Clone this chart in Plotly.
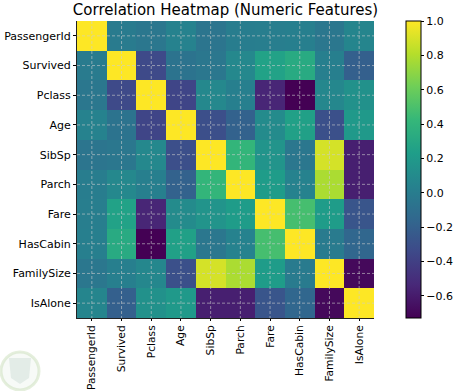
import plotly.graph_objects as go

features = ["PassengerId", "Survived", "Pclass", "Age", "SibSp", "Parch", "Fare", "HasCabin", "FamilySize", "IsAlone"]
corr = [
    [1.00, -0.01, -0.04, 0.04, -0.06, -0.00, 0.01, 0.02, -0.04, 0.06],
    [-0.01, 1.00, -0.34, -0.07, -0.04, 0.08, 0.26, 0.32, 0.02, -0.20],
    [-0.04, -0.34, 1.00, -0.37, 0.08, 0.02, -0.55, -0.73, 0.07, 0.14],
    [0.04, -0.07, -0.37, 1.00, -0.31, -0.19, 0.10, 0.25, -0.30, 0.20],
    [-0.06, -0.04, 0.08, -0.31, 1.00, 0.41, 0.16, -0.04, 0.89, -0.58],
    [-0.00, 0.08, 0.02, -0.19, 0.41, 1.00, 0.22, 0.04, 0.78, -0.58],
    [0.01, 0.26, -0.55, 0.10, 0.16, 0.22, 1.00, 0.48, 0.22, -0.27],
    [0.02, 0.32, -0.73, 0.25, -0.04, 0.04, 0.48, 1.00, -0.01, -0.16],
    [-0.04, 0.02, 0.07, -0.30, 0.89, 0.78, 0.22, -0.01, 1.00, -0.69],
    [0.06, -0.20, 0.14, 0.20, -0.58, -0.58, -0.27, -0.16, -0.69, 1.00],
]
cbar_ticks = [-0.6, -0.4, -0.2, 0.0, 0.2, 0.4, 0.6, 0.8, 1.0]
cbar_labels = ["−0.6", "−0.4", "−0.2", "0.0", "0.2", "0.4", "0.6", "0.8", "1.0"]

W, H = 455, 391
L, R, T, B = 77, 374, 21, 318
font = "DejaVu Sans"
idx = list(range(len(features)))

fig = go.Figure(go.Heatmap(
    z=corr, x=idx, y=idx, colorscale="Viridis", zmin=-0.73, zmax=1.0, xgap=0, ygap=0,
    colorbar=dict(
        thickness=15, thicknessmode="pixels", len=1, lenmode="fraction", y=0.5, yanchor="middle",
        x=(406 - L) / (R - L), xanchor="left", xpad=0, ypad=0,
        outlinewidth=1, outlinecolor="black",
        tickmode="array", tickvals=cbar_ticks, ticktext=cbar_labels,
        ticks="outside", ticklen=3, tickwidth=1, tickcolor="black",
        tickfont=dict(family=font, size=11, color="black"),
    ),
))

shapes = []
for i in idx:
    grid = dict(color="rgba(205,205,205,0.75)", width=0.8, dash="3px,2px")
    shapes.append(dict(type="line", xref="x", yref="y", x0=i, x1=i, y0=-0.5, y1=len(idx) - 0.5, line=grid, layer="above"))
    shapes.append(dict(type="line", xref="x", yref="y", x0=-0.5, x1=len(idx) - 0.5, y0=i, y1=i, line=grid, layer="above"))
# faint watermark emblem
shapes.append(dict(type="circle", xref="paper", yref="paper",
                   x0=(1 - L) / (R - L), x1=(39 - L) / (R - L),
                   y0=(B - 390) / (B - T), y1=(B - 352) / (B - T),
                   line=dict(color="rgba(190,215,170,0.4)", width=3), fillcolor="rgba(240,245,240,0.5)", layer="below"))
shapes.append(dict(type="path", xref="paper", yref="paper",
                   path=" ".join([
                       f"M {(9 - L) / (R - L)} {(B - 358) / (B - T)}",
                       f"L {(31 - L) / (R - L)} {(B - 358) / (B - T)}",
                       f"L {(29 - L) / (R - L)} {(B - 378) / (B - T)}",
                       f"L {(20 - L) / (R - L)} {(B - 384) / (B - T)}",
                       f"L {(11 - L) / (R - L)} {(B - 378) / (B - T)}", "Z"]),
                   line=dict(width=0), fillcolor="rgba(190,210,200,0.35)", layer="below"))

fig.update_layout(
    width=W, height=H,
    margin=dict(l=L, r=W - R, t=T, b=H - B, autoexpand=False),
    paper_bgcolor="white", plot_bgcolor="white",
    font=dict(family=font, size=11, color="black"),
    title=dict(text="Correlation Heatmap (Numeric Features)", x=(L + R) / 2 / W, xanchor="center",
               y=1 - 10 / H, yanchor="middle", font=dict(family=font, size=15, color="black")),
    xaxis=dict(tickmode="array", tickvals=idx, ticktext=features, tickangle=-90, ticks="outside",
               ticklen=2, tickwidth=1, tickcolor="black", showgrid=False, zeroline=False,
               tickfont=dict(family=font, size=10.7, color="black"),
               showline=True, linecolor="#222", linewidth=1, mirror=False, range=[-0.5, 9.5]),
    yaxis=dict(tickmode="array", tickvals=idx, ticktext=features, ticks="outside",
               ticklen=3, tickwidth=1, tickcolor="black", showgrid=False, zeroline=False,
               showline=True, linecolor="#222", linewidth=1, mirror=False, range=[9.5, -0.5]),
    shapes=shapes,
)

fig.write_html("out.html", config={"displayModeBar": False},
               post_script="document.body.style.margin='0';document.documentElement.style.overflow='hidden';")
